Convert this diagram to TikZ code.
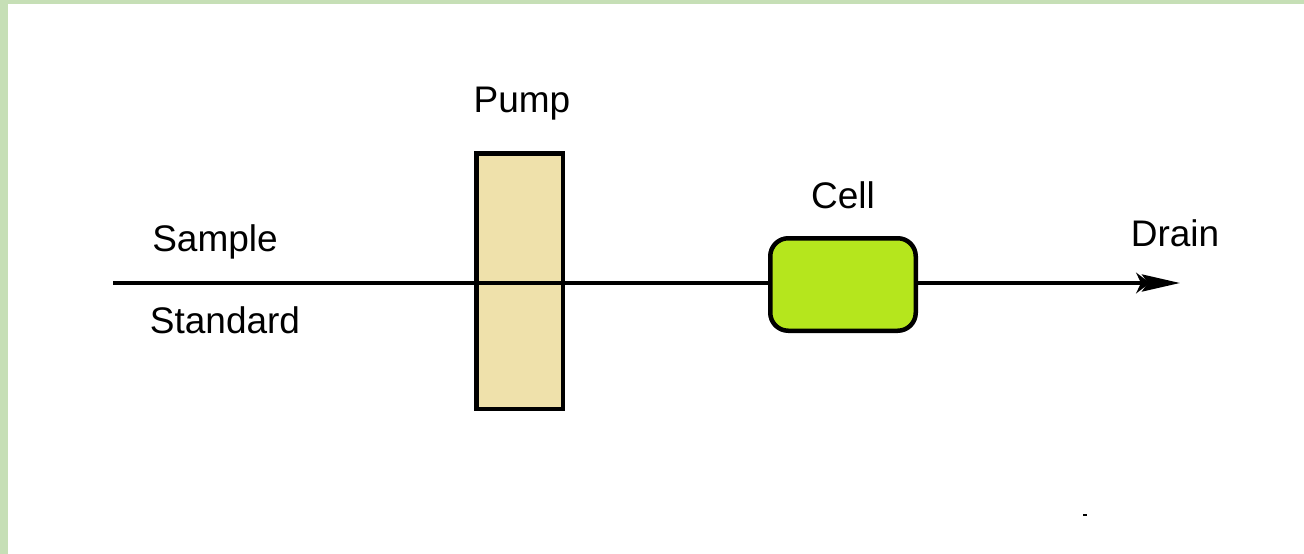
\documentclass[tikz,border=0pt]{standalone}
\usepackage{fontspec}
\setmainfont{Liberation Sans}
\usetikzlibrary{arrows.meta}
\definecolor{frame}{HTML}{C6DFB6}
\definecolor{pumpfill}{HTML}{EFE1AB}
\definecolor{cellfill}{HTML}{B5E61D}
\tikzset{
  lbl/.style={font=\fontsize{37}{44}\selectfont, inner sep=0pt},
  unit/.style={draw=black, line width=4.5pt, inner sep=0pt},
  pipe/.style={draw=black, line width=4pt}
}

\begin{document}
\begin{tikzpicture}[x=1pt,y=-1pt]
\useasboundingbox (0,0) rectangle (1304,554);
\fill[white] (0,0) rectangle (1304,554);
% frame strips on the left and top
\fill[frame] (0,0) rectangle (8,554);
\fill[frame] (0,0) rectangle (1304,4);
% pump and the line running through it
\node[unit, fill=pumpfill, minimum width=86.5pt, minimum height=255.5pt] (pump) at (519.5,281) {};
\coordinate (src) at (113,283);
\coordinate (out) at (1180,283);
\node[unit, fill=cellfill, rounded corners=18pt, minimum width=145.5pt, minimum height=92.5pt] (cell) at (843,284.5) {};
\draw[pipe] (src) -- (src -| cell.west);
\draw[pipe, -{Stealth[length=14pt,width=21pt,inset=5pt,sep=-8pt]Stealth[length=38pt,width=17pt,inset=6pt]}] (cell.east |- out) -- (out);
% labels
\node[lbl] (pumplbl) at (522,104) {Pump};
\node[lbl] (celllbl) at (843,195) {Cell};
\node[lbl] (drainlbl) at (1175,233) {Drain};
\node[lbl] (samplelbl) at (215,242) {Sample};
\node[lbl] (stdlbl) at (225,320) {Standard};
\fill[black] (1083,514) rectangle (1087,516);
\end{tikzpicture}
\end{document}
